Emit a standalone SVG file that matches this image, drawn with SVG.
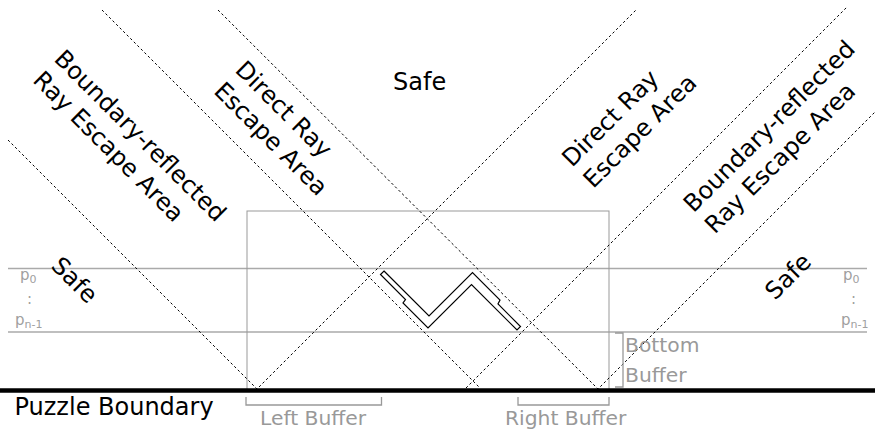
<svg xmlns="http://www.w3.org/2000/svg" width="875" height="430" viewBox="0 0 875 430">
<style>
.lbl{font-family:"DejaVu Sans","Liberation Sans",sans-serif;font-size:24px;fill:#000}
.gl{font-family:"DejaVu Sans","Liberation Sans",sans-serif;font-size:20.3px;fill:#999}
.pl{font-family:"DejaVu Sans","Liberation Sans",sans-serif;font-size:15px;fill:#a0a0a0}
.sub{font-size:11px}
.ray{fill:none;stroke:#000;stroke-width:1;stroke-dasharray:2.5,2.5}
.gline{fill:none;stroke:#aaa;stroke-width:1.3}
.brk{fill:none;stroke:#999;stroke-width:1.3}
</style>
<rect width="875" height="430" fill="#fff"/>
<g id="layers">
<line class="gline" x1="8" y1="268.5" x2="867" y2="268.5"/>
<line class="gline" x1="8" y1="332" x2="867" y2="332"/>
</g>
<g id="buffer-box">
<rect x="247" y="211" width="362" height="179" fill="none" stroke="#999" stroke-width="1"/>
</g>
<g id="connectors">
<polyline class="ray" points="8,140 257,389 636,10"/>
<line class="ray" x1="102" y1="10" x2="480" y2="388"/>
<line class="ray" x1="466" y1="388" x2="847" y2="7"/>
<polyline class="ray" points="218,10 598,389 875,112"/>
</g>
<g id="puzzle">
<polygon points="384,271 429,316 472.5,272.5 500,300 498,304 520.5,326.5 517,330 471.5,284.5 428,328 403,303 405.5,299.5 380.5,274.5" fill="#fff" stroke="#000" stroke-width="1.2" stroke-linejoin="miter"/>
</g>
<g id="boundary">
<line x1="0" y1="390.5" x2="875" y2="390.5" stroke="#000" stroke-width="4.5"/>
<text class="lbl" x="14.5" y="415">Puzzle Boundary</text>
</g>
<g id="safe-top"><text class="lbl" x="393" y="90">Safe</text></g>
<g id="safe-left"><text class="lbl" transform="translate(50,267) rotate(45)">Safe</text></g>
<g id="safe-right"><text class="lbl" transform="translate(775,301) rotate(-45)">Safe</text></g>
<g id="br-left"><text class="lbl" transform="translate(53,60) rotate(45)"><tspan x="0" y="0">Boundary-reflected</tspan><tspan x="0" y="30">Ray Escape Area</tspan></text></g>
<g id="dr-left"><text class="lbl" transform="translate(234,71) rotate(45)"><tspan x="0" y="0">Direct Ray</tspan><tspan x="0" y="30">Escape Area</tspan></text></g>
<g id="dr-right"><text class="lbl" transform="translate(572,168) rotate(-45)"><tspan x="0" y="0">Direct Ray</tspan><tspan x="0" y="30">Escape Area</tspan></text></g>
<g id="br-right"><text class="lbl" transform="translate(693.5,213.5) rotate(-45)"><tspan x="0" y="0">Boundary-reflected</tspan><tspan x="0" y="30">Ray Escape Area</tspan></text></g>
<g id="p-left">
<text class="pl" x="20" y="280">p<tspan class="sub" dy="3">0</tspan></text>
<text class="pl" x="27" y="304">:</text>
<text class="pl" x="15" y="325">p<tspan class="sub" dy="3">n-1</tspan></text>
</g>
<g id="p-right">
<text class="pl" x="843" y="280">p<tspan class="sub" dy="3">0</tspan></text>
<text class="pl" x="851" y="304">:</text>
<text class="pl" x="841" y="325">p<tspan class="sub" dy="3">n-1</tspan></text>
</g>
<g id="left-buffer">
<polyline class="brk" points="246,397 246,405 381.5,405 381.5,397"/>
<text class="gl" x="260" y="425">Left Buffer</text>
</g>
<g id="right-buffer">
<polyline class="brk" points="518,397 518,405 609,405 609,397"/>
<text class="gl" x="505" y="425">Right Buffer</text>
</g>
<g id="bottom-buffer">
<polyline class="brk" points="615,333 623,333 623,387 615,387"/>
<text class="gl" x="625" y="352">Bottom</text>
<text class="gl" x="625" y="382">Buffer</text>
</g>
</svg>
